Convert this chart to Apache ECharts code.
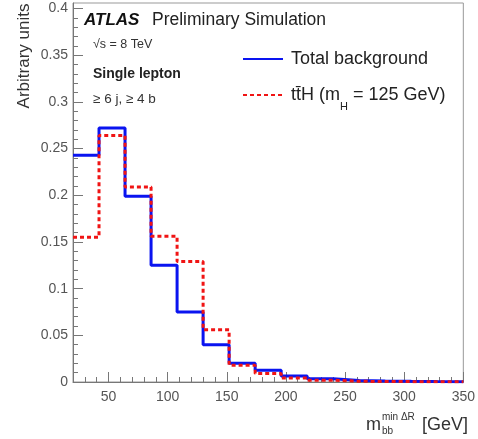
<!DOCTYPE html>
<html>
<head>
<meta charset="utf-8">
<script src="https://cdn.jsdelivr.net/npm/echarts@6/dist/echarts.min.js"></script>
<style>
html,body{margin:0;padding:0;background:#fff;}
#chart{width:478px;height:439px;}
</style>
</head>
<body>
<div id="chart"></div>
<script>
// Bin low edges (GeV) and last upper edge
const binLowEdges = [20, 42, 64, 86, 108, 130, 152, 174, 196, 218, 240, 262, 284, 306, 328];
const binUpperEdge = 350;
// Normalised distributions (arbitrary units)
const totalBackground = [0.243, 0.272, 0.199, 0.125, 0.075, 0.040, 0.020, 0.0125, 0.0065, 0.0036, 0.0015, 0.0010, 0.0007, 0.0005, 0.0004];
const ttH = [0.155, 0.264, 0.209, 0.156, 0.129, 0.056, 0.018, 0.009, 0.0043, 0.0020, 0.0008, 0.0005, 0.0004, 0.0003, 0.0002];
// Axis ticks
const xMajorTicks = [50, 100, 150, 200, 250, 300, 350];
const xMinorTicks = [30, 40, 60, 70, 80, 90, 110, 120, 130, 140, 160, 170, 180, 190, 210, 220, 230, 240, 260, 270, 280, 290, 310, 320, 330, 340];
const yMajorTicks = [0, 0.05, 0.1, 0.15, 0.2, 0.25, 0.3, 0.35, 0.4];
const yMinorTicks = [0.01, 0.02, 0.03, 0.04, 0.06, 0.07, 0.08, 0.09, 0.11, 0.12, 0.13, 0.14, 0.16, 0.17, 0.18, 0.19, 0.21, 0.22, 0.23, 0.24, 0.26, 0.27, 0.28, 0.29, 0.31, 0.32, 0.33, 0.34, 0.36, 0.37, 0.38, 0.39];

function histData(vals) {
  const d = binLowEdges.map((e, i) => [e, vals[i]]);
  d.push([binUpperEdge, vals[vals.length - 1]]);
  return d;
}

const FONT = '"Liberation Sans", Arial, Helvetica, sans-serif';
const axisCol = '#777';
const labelCol = '#555';

const chart = echarts.init(document.getElementById('chart'), null, {renderer: 'canvas'});
const xBase = {type: 'value', min: 20, max: 350, gridIndex: 0, position: 'bottom', splitLine: {show: false}};
const yBase = {type: 'value', min: 0, max: 0.406, gridIndex: 0, position: 'left', splitLine: {show: false}};

chart.setOption({
  animation: false,
  backgroundColor: '#fff',
  grid: {left: 73, right: 10, top: 3, bottom: 57, show: true, borderColor: '#999', borderWidth: 1, backgroundColor: 'transparent'},
  xAxis: [
    Object.assign({}, xBase, {
      axisLine: {show: true, lineStyle: {color: axisCol, width: 1}},
      axisTick: {show: true, inside: true, length: 10, customValues: xMajorTicks, lineStyle: {color: axisCol}},
      axisLabel: {show: true, customValues: xMajorTicks, color: labelCol, fontFamily: FONT, fontSize: 14, margin: 8}
    }),
    Object.assign({}, xBase, {
      axisLine: {show: false},
      axisTick: {show: true, inside: true, length: 5, customValues: xMinorTicks, lineStyle: {color: axisCol}},
      axisLabel: {show: false}
    })
  ],
  yAxis: [
    Object.assign({}, yBase, {
      axisLine: {show: true, lineStyle: {color: axisCol, width: 1}},
      axisTick: {show: true, inside: true, length: 10, customValues: yMajorTicks, lineStyle: {color: axisCol}},
      axisLabel: {show: true, customValues: yMajorTicks, color: labelCol, fontFamily: FONT, fontSize: 14, margin: 5,
        formatter: v => String(parseFloat(v.toFixed(2)))}
    }),
    Object.assign({}, yBase, {
      axisLine: {show: false},
      axisTick: {show: true, inside: true, length: 5, customValues: yMinorTicks, lineStyle: {color: axisCol}},
      axisLabel: {show: false}
    })
  ],
  legend: {
    orient: 'vertical',
    left: 242,
    top: 50,
    padding: 0,
    itemWidth: 40,
    itemHeight: 14,
    itemGap: 18,
    itemStyle: {opacity: 0},
    textStyle: {
      fontFamily: FONT, fontSize: 18, color: '#222', padding: [0, 0, 0, 3],
      rich: {
        n: {fontFamily: FONT, fontSize: 18, color: '#222', lineHeight: 22, verticalAlign: 'middle'},
        s: {fontFamily: FONT, fontSize: 11, color: '#222', lineHeight: 34, verticalAlign: 'bottom'}
      }
    },
    formatter: name => name === 'ttH' ? '{n|tt\u0304H (m}{s|H}{n| = 125 GeV)}' : name,
    data: ['Total background', 'ttH']
  },
  series: [
    {
      name: 'Total background', type: 'line', step: 'end', symbol: 'none', xAxisIndex: 0, yAxisIndex: 0,
      lineStyle: {color: '#0a14f0', width: 3}, itemStyle: {color: '#0a14f0'},
      data: histData(totalBackground), z: 3
    },
    {
      name: 'ttH', type: 'line', step: 'end', symbol: 'none', xAxisIndex: 0, yAxisIndex: 0,
      lineStyle: {color: '#f01414', width: 3, type: [4, 3]}, itemStyle: {color: '#f01414'},
      data: histData(ttH), z: 4
    }
  ],
  graphic: [
    {type: 'text', x: 24, y: 56, rotation: Math.PI / 2,
      style: {text: 'Arbitrary units', fontFamily: FONT, fontSize: 17, fill: '#333', align: 'center', verticalAlign: 'middle'}},
    {type: 'text', x: 84, y: 20,
      style: {text: 'ATLAS', fontFamily: FONT, fontSize: 17, fontWeight: 'bold', fontStyle: 'italic', fill: '#111', verticalAlign: 'middle'}},
    {type: 'text', x: 152, y: 20,
      style: {text: 'Preliminary Simulation', fontFamily: FONT, fontSize: 17.5, fill: '#222', verticalAlign: 'middle'}},
    {type: 'text', x: 93, y: 45,
      style: {text: '\u221As = 8 TeV', fontFamily: FONT, fontSize: 12.5, fill: '#333', verticalAlign: 'middle'}},
    {type: 'text', x: 93, y: 74,
      style: {text: 'Single lepton', fontFamily: FONT, fontSize: 14, fontWeight: 'bold', fill: '#222', verticalAlign: 'middle'}},
    {type: 'text', x: 93, y: 99,
      style: {text: '\u2265 6 j, \u2265 4 b', fontFamily: FONT, fontSize: 13.5, fill: '#333', verticalAlign: 'middle'}},
    {type: 'text', x: 366, y: 425,
      style: {text: 'm', fontFamily: FONT, fontSize: 18, fill: '#333', verticalAlign: 'middle'}},
    {type: 'text', x: 382, y: 417,
      style: {text: 'min \u0394R', fontFamily: FONT, fontSize: 10, fill: '#333', verticalAlign: 'middle'}},
    {type: 'text', x: 382, y: 431,
      style: {text: 'bb', fontFamily: FONT, fontSize: 10, fill: '#333', verticalAlign: 'middle'}},
    {type: 'text', x: 422, y: 425,
      style: {text: '[GeV]', fontFamily: FONT, fontSize: 18, fill: '#333', verticalAlign: 'middle'}}
  ]
});
</script>
</body>
</html>
